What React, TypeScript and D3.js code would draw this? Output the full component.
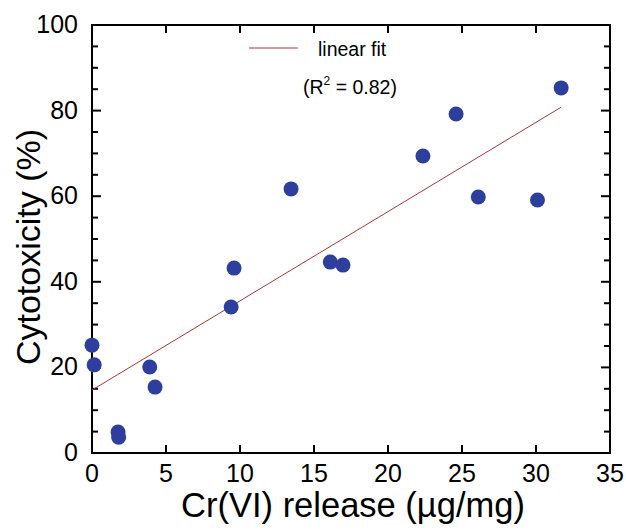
import React, { useEffect, useRef } from "react";
import * as d3 from "d3";

// Cr(VI) release (ug/mg) vs cytotoxicity (%)
const release = [0, 0.15, 1.76, 1.8, 3.9, 4.26, 9.4, 9.6, 13.45, 16.1, 16.96, 22.36, 24.6, 26.1, 30.1, 31.7];
const cytotox = [25.2, 20.6, 4.9, 3.7, 20.1, 15.4, 34.1, 43.2, 61.7, 44.6, 43.9, 69.4, 79.2, 59.8, 59.1, 85.3];

// linear fit
const fitX = [0, 31.7];
const fitY = [14.7, 80.8];

const xTicks = [0, 5, 10, 15, 20, 25, 30, 35];
const yTicks = [0, 20, 40, 60, 80, 100];
const yMinorTicks = [5, 10, 15, 25, 30, 35, 45, 50, 55, 65, 70, 75, 85, 90, 95];

export default function App() {
  const ref = useRef<SVGSVGElement>(null);

  useEffect(() => {
    const width = 626;
    const height = 531;
    const margin = { top: 25, right: 16, bottom: 78, left: 92 };
    const innerWidth = width - margin.left - margin.right;
    const innerHeight = height - margin.top - margin.bottom;

    const svg = d3.select(ref.current);
    svg.selectAll("*").remove();

    const g = svg.append("g").attr("transform", `translate(${margin.left}, ${margin.top})`);

    const xScale = d3.scaleLinear().domain([0, 35]).range([0, innerWidth]);
    const yScale = d3.scaleLinear().domain([0, 100]).range([innerHeight, 0]);

    const font = "Liberation Sans, Arial, sans-serif";

    // frame
    g.append("rect")
      .attr("width", innerWidth)
      .attr("height", innerHeight)
      .attr("fill", "none")
      .attr("stroke", "#000")
      .attr("stroke-width", 2);

    // ticks, pointing inward on every side
    const tickG = g.append("g").attr("stroke", "#000").attr("stroke-width", 2);
    xTicks.slice(1, -1).forEach(t => {
      const x = xScale(t);
      tickG.append("line").attr("x1", x).attr("x2", x).attr("y1", innerHeight).attr("y2", innerHeight - 8);
      tickG.append("line").attr("x1", x).attr("x2", x).attr("y1", 0).attr("y2", 8);
    });
    yTicks.slice(1, -1).forEach(t => {
      const y = yScale(t);
      tickG.append("line").attr("x1", 0).attr("x2", 9).attr("y1", y).attr("y2", y);
      tickG.append("line").attr("x1", innerWidth).attr("x2", innerWidth - 9).attr("y1", y).attr("y2", y);
    });
    yMinorTicks.forEach(t => {
      const y = yScale(t);
      tickG.append("line").attr("x1", 0).attr("x2", 6).attr("y1", y).attr("y2", y);
      tickG.append("line").attr("x1", innerWidth).attr("x2", innerWidth - 6).attr("y1", y).attr("y2", y);
    });

    // tick labels
    g.selectAll(".xlab")
      .data(xTicks)
      .enter()
      .append("text")
      .attr("class", "xlab")
      .attr("x", d => xScale(d))
      .attr("y", innerHeight + 29)
      .attr("text-anchor", "middle")
      .attr("font-family", font)
      .attr("font-size", 25)
      .text(d => d);

    g.selectAll(".ylab")
      .data(yTicks)
      .enter()
      .append("text")
      .attr("class", "ylab")
      .attr("x", -14)
      .attr("y", d => yScale(d) + 8)
      .attr("text-anchor", "end")
      .attr("font-family", font)
      .attr("font-size", 25)
      .text(d => d);

    // fit line
    const line = d3.line<number>()
      .x((d, i) => xScale(fitX[i]))
      .y(d => yScale(d));
    g.append("path")
      .attr("d", line(fitY))
      .attr("fill", "none")
      .attr("stroke", "#a8353a")
      .attr("stroke-width", 1);

    // points
    g.selectAll("circle")
      .data(release)
      .enter()
      .append("circle")
      .attr("cx", d => xScale(d))
      .attr("cy", (d, i) => yScale(cytotox[i]))
      .attr("r", 7.5)
      .attr("fill", "#2d3e9c");

    // legend
    svg.append("line")
      .attr("x1", 249)
      .attr("x2", 298)
      .attr("y1", 48)
      .attr("y2", 48)
      .attr("stroke", "#a8353a")
      .attr("stroke-width", 1);
    svg.append("text")
      .attr("x", 318)
      .attr("y", 56)
      .attr("font-family", font)
      .attr("font-size", 19.5)
      .text("linear fit");
    const r2 = svg.append("text")
      .attr("x", 303)
      .attr("y", 94)
      .attr("font-family", font)
      .attr("font-size", 19.5);
    r2.append("tspan").text("(R");
    r2.append("tspan").attr("dy", -9).attr("font-size", 12).text("2");
    r2.append("tspan").attr("dy", 9).text(" = 0.82)");

    // axis titles
    svg.append("text")
      .attr("x", 353)
      .attr("y", 517)
      .attr("text-anchor", "middle")
      .attr("font-family", font)
      .attr("font-size", 34.5)
      .text("Cr(VI) release (µg/mg)");

    svg.append("text")
      .attr("transform", "rotate(-90)")
      .attr("x", -247)
      .attr("y", 40)
      .attr("text-anchor", "middle")
      .attr("font-family", font)
      .attr("font-size", 34)
      .text("Cytotoxicity (%)");
  }, []);

  return (
    <svg ref={ref} width={626} height={531} style={{ position: "absolute", left: 0, top: 0 }} />
  );
}
